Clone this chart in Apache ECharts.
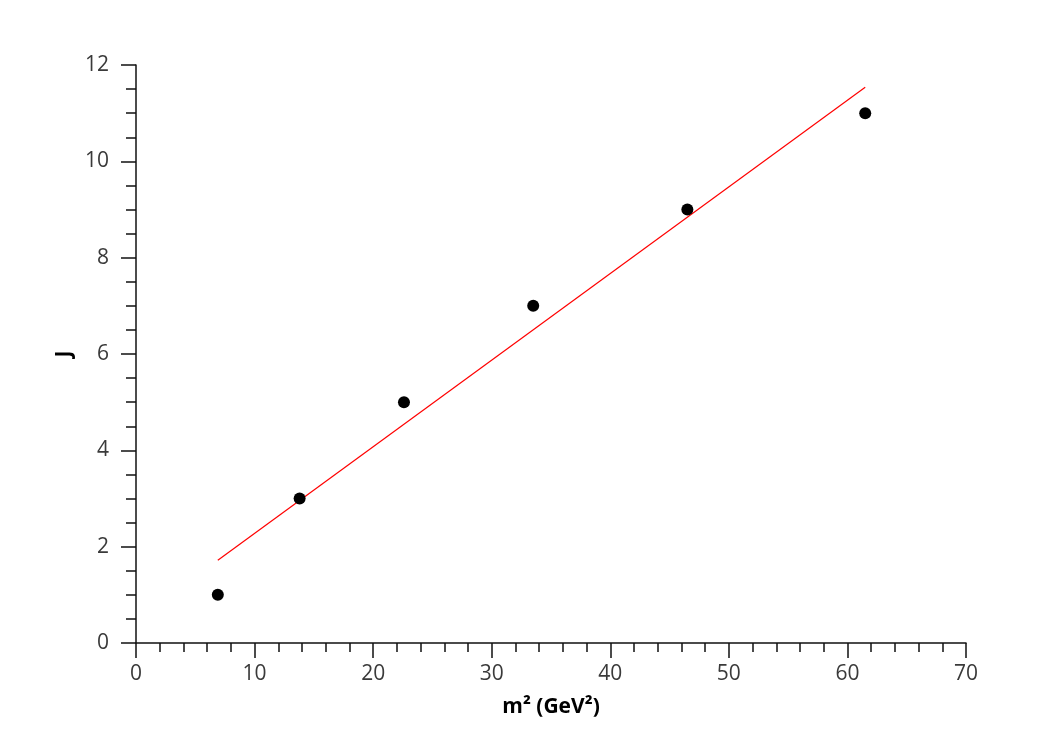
<!DOCTYPE html>
<html>
<head>
<meta charset="utf-8">
<script src="https://cdn.jsdelivr.net/npm/echarts@6/dist/echarts.min.js"></script>
<style>
  html, body { margin: 0; padding: 0; background: #fff; }
  #chart { width: 1040px; height: 738px; }
</style>
</head>
<body>
<div id="chart"></div>
<script>
// measured points: m^2 (GeV^2) vs J
var massSq = [6.9, 13.8, 22.6, 33.5, 46.5, 61.5];
var spinJ = [1, 3, 5, 7, 9, 11];
// fitted straight line, end points
var fitX = [6.9, 61.5];
var fitY = [1.72, 11.54];

var pts = massSq.map(function (x, i) { return [x, spinJ[i]]; });
var fitPts = fitX.map(function (x, i) { return [x, fitY[i]]; });

var font = 'Open Sans';

var chart = echarts.init(document.getElementById('chart'));
chart.setOption({
  backgroundColor: '#fff',
  animation: false,
  grid: { left: 136, right: 74, top: 65, bottom: 95, containLabel: false },
  xAxis: {
    type: 'value', min: 0, max: 70, interval: 10,
    axisLine: { show: true, onZero: false, lineStyle: { color: '#111', width: 1.5 } },
    axisTick: { show: true, inside: false, length: 15, lineStyle: { color: '#111', width: 1.5 } },
    minorTick: { show: true, splitNumber: 5, length: 9, lineStyle: { color: '#111', width: 1.5 } },
    splitLine: { show: false },
    axisLabel: { color: '#3a3a3a', fontSize: 21, fontFamily: font, margin: 21 },
    name: 'm² (GeV²)', nameLocation: 'middle', nameGap: 54,
    nameTextStyle: { color: '#000', fontSize: 21, fontWeight: 'bold', fontFamily: font }
  },
  yAxis: {
    type: 'value', min: 0, max: 12, interval: 2,
    axisLine: { show: true, onZero: false, lineStyle: { color: '#111', width: 1.5 } },
    axisTick: { show: true, inside: false, length: 15, lineStyle: { color: '#111', width: 1.5 } },
    minorTick: { show: true, splitNumber: 4, length: 10, lineStyle: { color: '#111', width: 1.5 } },
    splitLine: { show: false },
    axisLabel: { color: '#3a3a3a', fontSize: 21, fontFamily: font, margin: 27 },
    name: 'J', nameLocation: 'middle', nameGap: 60, nameRotate: 90,
    nameTextStyle: { color: '#000', fontSize: 21, fontWeight: 'bold', fontFamily: font }
  },
  series: [
    {
      type: 'line', data: fitPts, symbol: 'none',
      lineStyle: { color: '#ff0000', width: 1.2 }, z: 2
    },
    {
      type: 'scatter', data: pts, symbolSize: 12,
      itemStyle: { color: '#000', opacity: 1 }, z: 3
    }
  ]
});
</script>
</body>
</html>
